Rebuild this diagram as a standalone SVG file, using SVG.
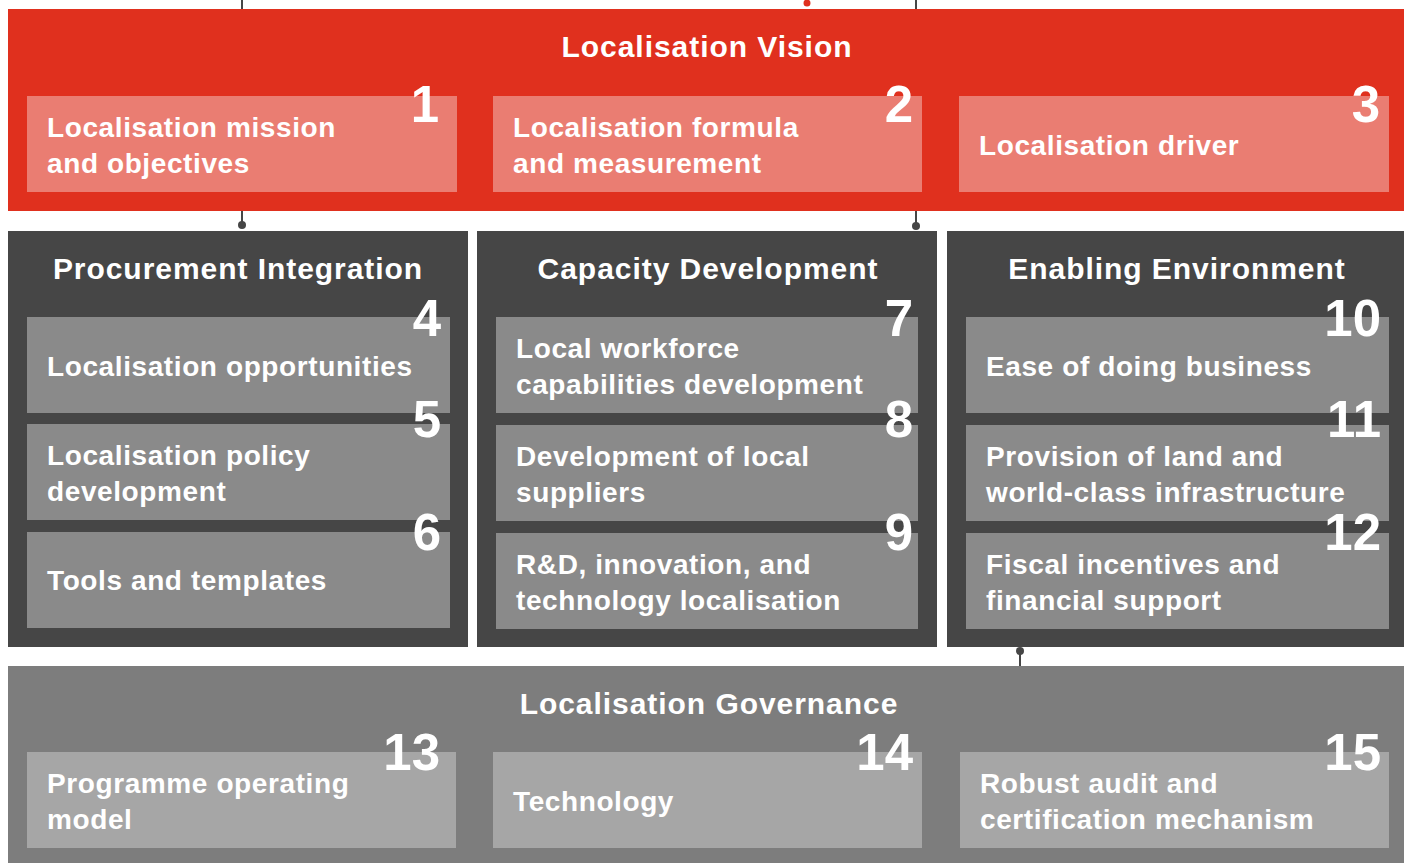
<svg xmlns="http://www.w3.org/2000/svg" width="1404" height="863" viewBox="0 0 1404 863">
<style>
.t{font-family:"Liberation Sans",Arial,sans-serif;font-weight:bold;fill:#fff}
.ttl{font-size:30px;letter-spacing:0.95px;text-anchor:middle}
.bx{font-size:28px;letter-spacing:0.6px}
.num{font-size:51px;text-anchor:end}
.lr{fill:#EA7D72}
.gb{fill:#8A8A8A}
.lb{fill:#A6A6A6}
.dp{fill:#464646}
.cn{stroke:#464646;stroke-width:2;fill:none}
.dot{fill:#464646}
</style>
<rect width="1404" height="863" fill="#fff"/>
<g id="connectors">
<line class="cn" x1="242" y1="0" x2="242" y2="10"/>
<line class="cn" x1="916" y1="0" x2="916" y2="10"/>
<circle cx="807" cy="3" r="3.5" fill="#E0301E"/>
<line class="cn" x1="242" y1="210" x2="242" y2="225"/>
<circle class="dot" cx="242" cy="225" r="4"/>
<line class="cn" x1="916" y1="210" x2="916" y2="226"/>
<circle class="dot" cx="916" cy="226" r="4"/>
<line class="cn" x1="1020" y1="651" x2="1020" y2="667"/>
<circle class="dot" cx="1020" cy="651" r="4"/>
</g>
<g id="vision">
<rect x="8" y="9" width="1396" height="202" fill="#E0301E"/>
<text class="t ttl" x="707" y="57">Localisation Vision</text>
</g>
<g id="n1">
<rect class="lr" x="27" y="96" width="430" height="96"/>
<text class="t bx" x="47" y="137">Localisation mission</text>
<text class="t bx" x="47" y="173">and objectives</text>
<text class="t num" x="439" y="122">1</text>
</g>
<g id="n2">
<rect class="lr" x="493" y="96" width="429" height="96"/>
<text class="t bx" x="513" y="137">Localisation formula</text>
<text class="t bx" x="513" y="173">and measurement</text>
<text class="t num" x="913" y="122">2</text>
</g>
<g id="n3">
<rect class="lr" x="959" y="96" width="430" height="96"/>
<text class="t bx" x="979" y="155">Localisation driver</text>
<text class="t num" x="1380" y="122">3</text>
</g>
<g id="procurement">
<rect class="dp" x="8" y="231" width="460" height="416"/>
<text class="t ttl" x="238" y="279">Procurement Integration</text>
</g>
<g id="n4">
<rect class="gb" x="27" y="317" width="423" height="96"/>
<text class="t bx" x="47" y="376">Localisation opportunities</text>
<text class="t num" x="441" y="336">4</text>
</g>
<g id="n5">
<rect class="gb" x="27" y="424" width="423" height="96"/>
<text class="t bx" x="47" y="465">Localisation policy</text>
<text class="t bx" x="47" y="501">development</text>
<text class="t num" x="441" y="437">5</text>
</g>
<g id="n6">
<rect class="gb" x="27" y="532" width="423" height="96"/>
<text class="t bx" x="47" y="590">Tools and templates</text>
<text class="t num" x="441" y="550">6</text>
</g>
<g id="capacity">
<rect class="dp" x="477" y="231" width="460" height="416"/>
<text class="t ttl" x="708" y="279">Capacity Development</text>
</g>
<g id="n7">
<rect class="gb" x="496" y="317" width="422" height="96"/>
<text class="t bx" x="516" y="358">Local workforce</text>
<text class="t bx" x="516" y="394">capabilities development</text>
<text class="t num" x="913" y="336">7</text>
</g>
<g id="n8">
<rect class="gb" x="496" y="425" width="422" height="96"/>
<text class="t bx" x="516" y="466">Development of local</text>
<text class="t bx" x="516" y="502">suppliers</text>
<text class="t num" x="913" y="437">8</text>
</g>
<g id="n9">
<rect class="gb" x="496" y="533" width="422" height="96"/>
<text class="t bx" x="516" y="574">R&amp;D, innovation, and</text>
<text class="t bx" x="516" y="610">technology localisation</text>
<text class="t num" x="913" y="550">9</text>
</g>
<g id="enabling">
<rect class="dp" x="947" y="231" width="457" height="416"/>
<text class="t ttl" x="1177" y="279">Enabling Environment</text>
</g>
<g id="n10">
<rect class="gb" x="966" y="317" width="423" height="96"/>
<text class="t bx" x="986" y="376">Ease of doing business</text>
<text class="t num" x="1381" y="336">10</text>
</g>
<g id="n11">
<rect class="gb" x="966" y="425" width="423" height="96"/>
<text class="t bx" x="986" y="466">Provision of land and</text>
<text class="t bx" x="986" y="502">world-class infrastructure</text>
<text class="t num" x="1381" y="437">11</text>
</g>
<g id="n12">
<rect class="gb" x="966" y="533" width="423" height="96"/>
<text class="t bx" x="986" y="574">Fiscal incentives and</text>
<text class="t bx" x="986" y="610">financial support</text>
<text class="t num" x="1381" y="550">12</text>
</g>
<g id="governance">
<rect x="8" y="666" width="1396" height="197" fill="#7D7D7D"/>
<text class="t ttl" x="709" y="714">Localisation Governance</text>
</g>
<g id="n13">
<rect class="lb" x="27" y="752" width="429" height="96"/>
<text class="t bx" x="47" y="793">Programme operating</text>
<text class="t bx" x="47" y="829">model</text>
<text class="t num" x="440" y="770">13</text>
</g>
<g id="n14">
<rect class="lb" x="493" y="752" width="429" height="96"/>
<text class="t bx" x="513" y="811">Technology</text>
<text class="t num" x="913" y="770">14</text>
</g>
<g id="n15">
<rect class="lb" x="960" y="752" width="429" height="96"/>
<text class="t bx" x="980" y="793">Robust audit and</text>
<text class="t bx" x="980" y="829">certification mechanism</text>
<text class="t num" x="1381" y="770">15</text>
</g>
</svg>
